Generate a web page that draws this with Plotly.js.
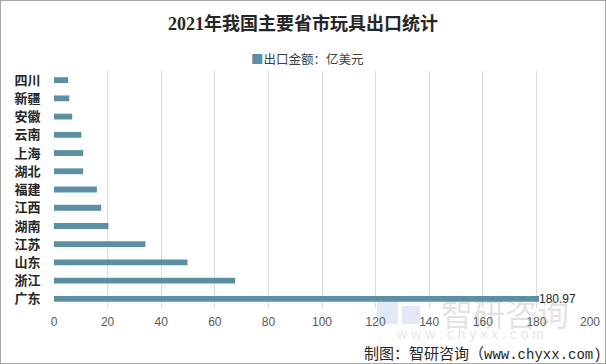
<!DOCTYPE html>
<html>
<head>
<meta charset="utf-8">
<script src="https://cdn.plot.ly/plotly-3.0.1.min.js"></script>
<style>
html,body{margin:0;padding:0;background:#fff;}
#wrap{position:relative;width:606px;height:364px;}
#chart{width:606px;height:364px;}
#border{position:absolute;left:0;top:0;width:606px;height:364px;box-sizing:border-box;border:1px solid #a6a6a6;pointer-events:none;}
</style>
</head>
<body>
<div id="wrap"><div id="chart"></div><div id="border"></div></div>
<script>
const provinces = ["四川","新疆","安徽","云南","上海","湖北","福建","江西","湖南","江苏","山东","浙江","广东"];
const exportValues = [5.3, 5.7, 6.8, 10.2, 10.9, 10.9, 16.0, 17.6, 20.3, 34.1, 49.8, 67.6, 180.97];
const labelText = provinces.map((p, i) => p === "广东" ? "180.97" : "");
const seriesName = "出口金额：亿美元";
const barColor = "#5b8fa3";

const trace = {
  type: "bar",
  orientation: "h",
  y: provinces,
  x: exportValues,
  name: seriesName,
  marker: {color: barColor},
  width: 0.32,
  text: labelText,
  textposition: "outside",
  constraintext: "none",
  cliponaxis: false,
  textfont: {family: "Liberation Sans Narrow, Liberation Sans, sans-serif", size: 12, color: "#262626"},
  hoverinfo: "none"
};

const layout = {
  width: 606, height: 364,
  margin: {l: 54, r: 16, t: 71, b: 56},
  paper_bgcolor: "#fff", plot_bgcolor: "#fff",
  font: {family: "Noto Sans CJK SC, sans-serif"},
  title: {
    text: "<b>2021年我国主要省市玩具出口统计</b>",
    font: {family: "Liberation Serif, Noto Sans CJK SC, serif", size: 18, color: "#262626"},
    x: 0.5, xanchor: "center", y: 0.935, yanchor: "middle"
  },
  showlegend: false,
  xaxis: {
    range: [0, 200], dtick: 20, tick0: 0,
    showgrid: true, gridcolor: "#d9d9d9", gridwidth: 1,
    zeroline: false, showline: false,
    tickfont: {family: "Liberation Sans Narrow, Liberation Sans, sans-serif", size: 12, color: "#595959"},
    ticks: "outside", ticklen: 3, tickcolor: "rgba(0,0,0,0)"
  },
  yaxis: {
    autorange: "reversed",
    showgrid: false, zeroline: false, showline: false,
    tickfont: {family: "Noto Sans CJK SC, sans-serif", size: 13, color: "#262626", weight: "bold"},
    ticks: "outside", ticklen: 10, tickcolor: "rgba(0,0,0,0)"
  },
  annotations: [
    {text: "<span style='color:" + barColor + "'>■</span>" + seriesName, xref: "paper", yref: "paper",
     x: (249 - 54) / 536, y: (308 - 58) / 237, xanchor: "left", yanchor: "middle",
     showarrow: false, font: {family: "Noto Sans CJK SC, sans-serif", size: 12.5, color: "#404040"}},
    {text: "智研咨询", xref: "paper", yref: "paper", x: (505 - 54) / 536, y: (308 - 312) / 237, xanchor: "center", yanchor: "middle",
     showarrow: false, font: {family: "Noto Sans CJK SC, sans-serif", size: 32, color: "rgba(140,140,140,0.25)"}},
    {text: "w w w . c h y x x . c o m", xref: "paper", yref: "paper", x: (470 - 54) / 536, y: (308 - 334) / 237, xanchor: "center", yanchor: "middle",
     showarrow: false, font: {family: "Liberation Sans, sans-serif", size: 14, color: "rgba(140,140,140,0.25)"}},
    {text: "制图：智研咨询（<span style='font-family:Liberation Mono;font-size:14px'>www.chyxx.com)</span>", xref: "paper", yref: "paper",
     x: (604 - 54) / 536, y: (308 - 352) / 237, xanchor: "right", yanchor: "middle",
     showarrow: false, font: {family: "Noto Sans CJK SC, sans-serif", size: 15, color: "#262626"}}
  ],
  shapes: [
    {type: "rect", xref: "paper", yref: "paper", x0: (377 - 54) / 536, x1: (398 - 54) / 536, y0: (308 - 324) / 237, y1: (308 - 300) / 237,
     fillcolor: "rgba(110,140,200,0.2)", line: {width: 0}},
    {type: "rect", xref: "paper", yref: "paper", x0: (402 - 54) / 536, x1: (420 - 54) / 536, y0: (308 - 324) / 237, y1: (308 - 306) / 237,
     fillcolor: "rgba(110,140,200,0.2)", line: {width: 0}}
  ]
};

Plotly.newPlot("chart", [trace], layout, {staticPlot: true, displayModeBar: false});
</script>
</body>
</html>
